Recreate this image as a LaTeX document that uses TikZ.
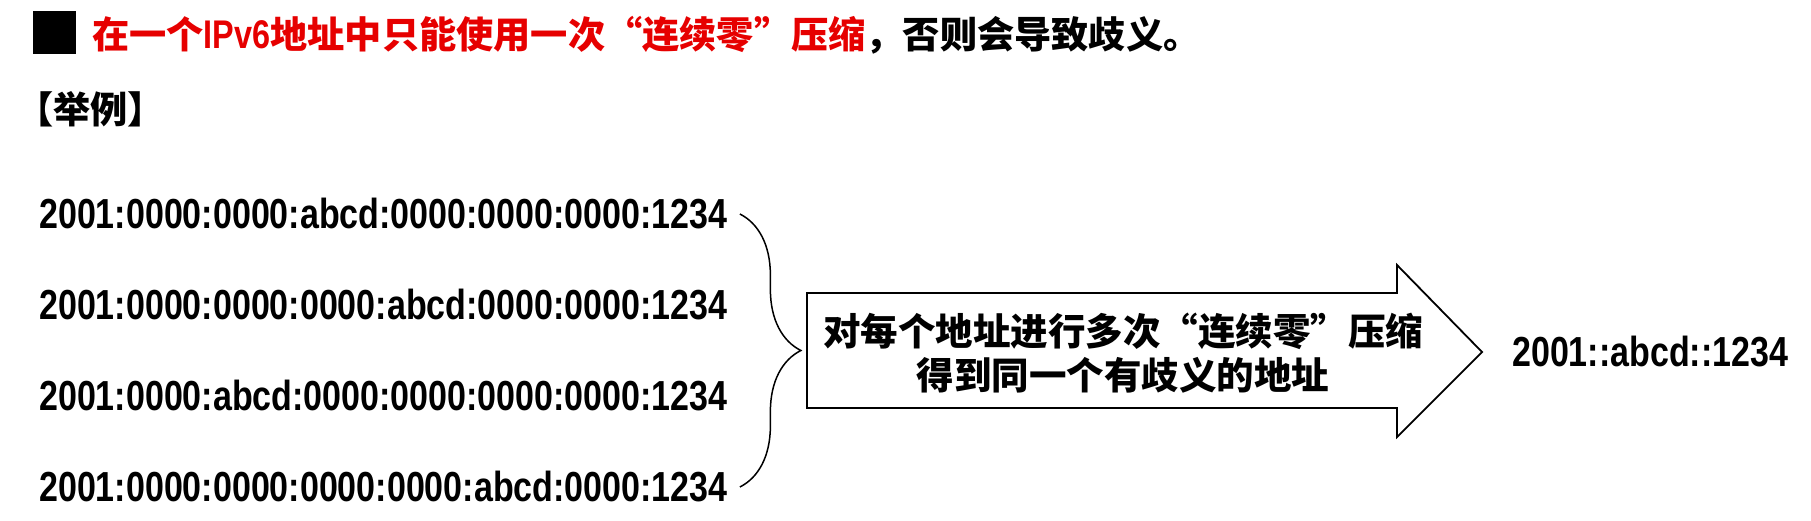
\documentclass[tikz,border=0pt]{standalone}
\usepackage{fontspec}
\usetikzlibrary{decorations.pathreplacing}
\newfontfamily\cjk{Noto Sans CJK SC}
\newfontfamily\narrowsans{Liberation Sans}[FakeStretch=0.81]
\definecolor{titlered}{RGB}{230,0,0}

\begin{document}
\begin{tikzpicture}[x=1pt,y=-1pt,every node/.style={inner sep=0pt},
  cjktext/.style={font={\cjk\bfseries\fontsize{37.2}{44}\selectfont}},
  addr/.style={anchor=west,font={\narrowsans\bfseries\fontsize{42}{50}\selectfont}}]
\useasboundingbox (0,0) rectangle (1811,521);
\fill (33,11) rectangle (76,54);
\node[cjktext,anchor=base west] (title) at (92,49) {\textcolor{titlered}{在一个{\narrowsans\fontsize{40}{44}\selectfont IPv6}地址中只能使用一次“连续零”压缩}，否则会导致歧义。};
\node[cjktext,anchor=base west] (example) at (16,124) {【举例】};
\node[addr] (a1) at (39,214) {2001:0000:0000:abcd:0000:0000:0000:1234};
\node[addr] (a2) at (39,305) {2001:0000:0000:0000:abcd:0000:0000:1234};
\node[addr] (a3) at (39,396) {2001:0000:abcd:0000:0000:0000:0000:1234};
\node[addr] (a4) at (39,487) {2001:0000:0000:0000:0000:abcd:0000:1234};
\coordinate (bt) at ([xshift=12]a1.east);
\coordinate (bb) at ([xshift=12]a4.east);
\draw[line width=1.5,decorate,decoration={brace,amplitude=61}] (bt) -- (bb);
\draw[line width=1.8] (807,293) -- (1397,293) -- (1397,265) -- (1482,352) -- (1397,437) -- (1397,408) -- (807,408) -- cycle;
\node[cjktext,align=center,font={\cjk\bfseries\fontsize{37.5}{44}\selectfont}] (rule) at (1123,353) {对每个地址进行多次“连续零”压缩\\得到同一个有歧义的地址};
\node[addr] (result) at (1512,352) {2001::abcd::1234};
\end{tikzpicture}
\end{document}
